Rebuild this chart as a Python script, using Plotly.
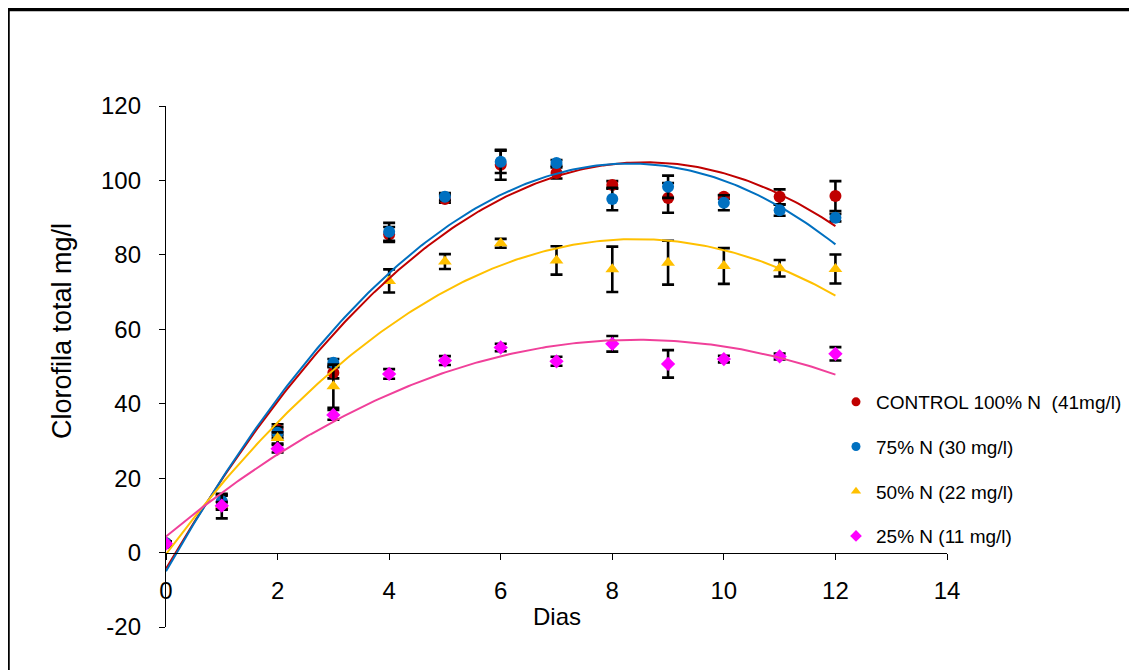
import numpy as np
import plotly.graph_objects as go

days = [0, 1, 2, 3, 4, 5, 6, 7, 8, 9, 10, 11, 12]
x_ticks = [0, 2, 4, 6, 8, 10, 12, 14]
y_ticks = [-20, 0, 20, 40, 60, 80, 100, 120]
y_tick_text = ["-20", "0", "20", "40", "60", "80", "100", "120"]

series_names = ["CONTROL 100% N  (41mg/l)", "75% N (30 mg/l)", "50% N (22 mg/l)", "25% N (11 mg/l)"]

control = [2.5, 13.5, 33.0, 48.3, 85.5, 95.0, 104.2, 102.0, 98.8, 95.3, 95.6, 95.6, 95.8]
control_err = [0.5, 2.0, 1.5, 1.5, 2.0, 1.0, 4.0, 1.5, 1.0, 4.0, 0.5, 2.0, 4.0]

n75 = [2.5, 13.8, 32.2, 51.0, 86.2, 95.6, 105.0, 104.7, 95.0, 98.3, 94.0, 92.0, 90.0]
n75_err = [0.5, 1.5, 1.5, 1.0, 2.4, 1.0, 3.0, 0.8, 3.0, 3.0, 2.0, 1.5, 1.0]

n50 = [2.3, 12.5, 30.8, 44.7, 73.0, 78.2, 83.1, 78.5, 76.1, 77.9, 77.0, 76.4, 76.2]
n50_err = [0.5, 3.3, 1.5, 5.8, 3.1, 2.0, 1.2, 3.8, 6.1, 5.9, 4.8, 2.2, 3.9]

n25 = [2.4, 12.6, 27.9, 37.0, 48.0, 51.6, 55.1, 51.4, 56.1, 50.7, 52.0, 52.7, 53.4]
n25_err = [0.5, 1.0, 1.0, 1.3, 1.3, 1.2, 1.0, 1.2, 2.1, 3.7, 0.9, 0.8, 1.8]

values = [control, n75, n50, n25]
errors = [control_err, n75_err, n50_err, n25_err]
marker_colors = ["#C00000", "#0070C0", "#FFC000", "#FF00FF"]
trend_colors = ["#C00000", "#0070C0", "#FFC000", "#F0409A"]
symbols = ["circle", "circle", "triangle-up", "diamond"]
sizes = [12, 12, 12, 11]

FONT = "Liberation Sans, Arial, sans-serif"

fig = go.Figure()

for vals, err, col, sym, sz in zip(values, errors, marker_colors, symbols, sizes):
    fig.add_trace(go.Scatter(
        x=days, y=vals, mode="markers",
        marker=dict(color=col, symbol=sym, size=sz, line=dict(width=0)),
        error_y=dict(type="data", array=err, visible=True, color="black",
                     thickness=2.6, width=6),
        showlegend=False, hoverinfo="skip"))

# second-order polynomial trendlines (as in the original spreadsheet chart)
xs = np.linspace(min(days), max(days), 200)
for vals, col in zip(values, trend_colors):
    coef = np.polyfit(days, vals, 2)
    fig.add_trace(go.Scatter(
        x=xs, y=np.polyval(coef, xs), mode="lines",
        line=dict(color=col, width=2), showlegend=False, hoverinfo="skip"))

# legend entries
for i, (name, col, sym) in enumerate(zip(series_names, marker_colors, symbols)):
    fig.add_trace(go.Scatter(
        x=[None], y=[None], mode="markers", name=name,
        marker=dict(color=col, symbol=sym, size=9),
        legendgroup="g%d" % i, showlegend=True))

L, R, T, B = 158, 939, 98, 619
W, H = 1137, 670
pw, ph = R - L, B - T


def px(x):
    return (x - L) / pw


def py(y):
    return (B - y) / ph


fig.update_layout(
    width=W, height=H,
    margin=dict(l=L, r=W - R, t=T, b=H - B),
    paper_bgcolor="white", plot_bgcolor="white",
    font=dict(family=FONT, color="black"),
    xaxis=dict(range=[0, 14], tickvals=x_ticks, showline=True, linecolor="black",
               linewidth=1.3, ticks="outside", ticklen=6, tickcolor="black",
               anchor="free", position=20 / 140, showgrid=False, zeroline=False,
               tickfont=dict(size=24, family=FONT), ticklabelstandoff=10),
    yaxis=dict(range=[-20, 120], tickvals=y_ticks, ticktext=y_tick_text,
               showline=True, linecolor="black",
               linewidth=1.3, ticks="outside", ticklen=6, tickcolor="black",
               showgrid=False, zeroline=False,
               tickfont=dict(size=24, family=FONT), ticklabelstandoff=13),
    legend=dict(x=px(828), y=py(375), xanchor="left", yanchor="top",
                font=dict(size=19, family=FONT), tracegroupgap=17,
                traceorder="grouped", bgcolor="rgba(0,0,0,0)"),
    shapes=[dict(type="rect", xref="paper", yref="paper",
                 x0=px(0), x1=px(1200), y0=py(700), y1=py(1.5),
                 line=dict(color="black", width=3.5))],
    annotations=[
        dict(text="Dias", xref="paper", yref="paper", x=px(549), y=py(608),
             xanchor="center", yanchor="middle", showarrow=False,
             font=dict(size=24, family=FONT)),
        dict(text="Clorofila total mg/l", xref="paper", yref="paper", x=px(54), y=py(323),
             xanchor="center", yanchor="middle", showarrow=False, textangle=-90,
             font=dict(size=27, family=FONT)),
    ],
)

fig.write_html("out.html")
